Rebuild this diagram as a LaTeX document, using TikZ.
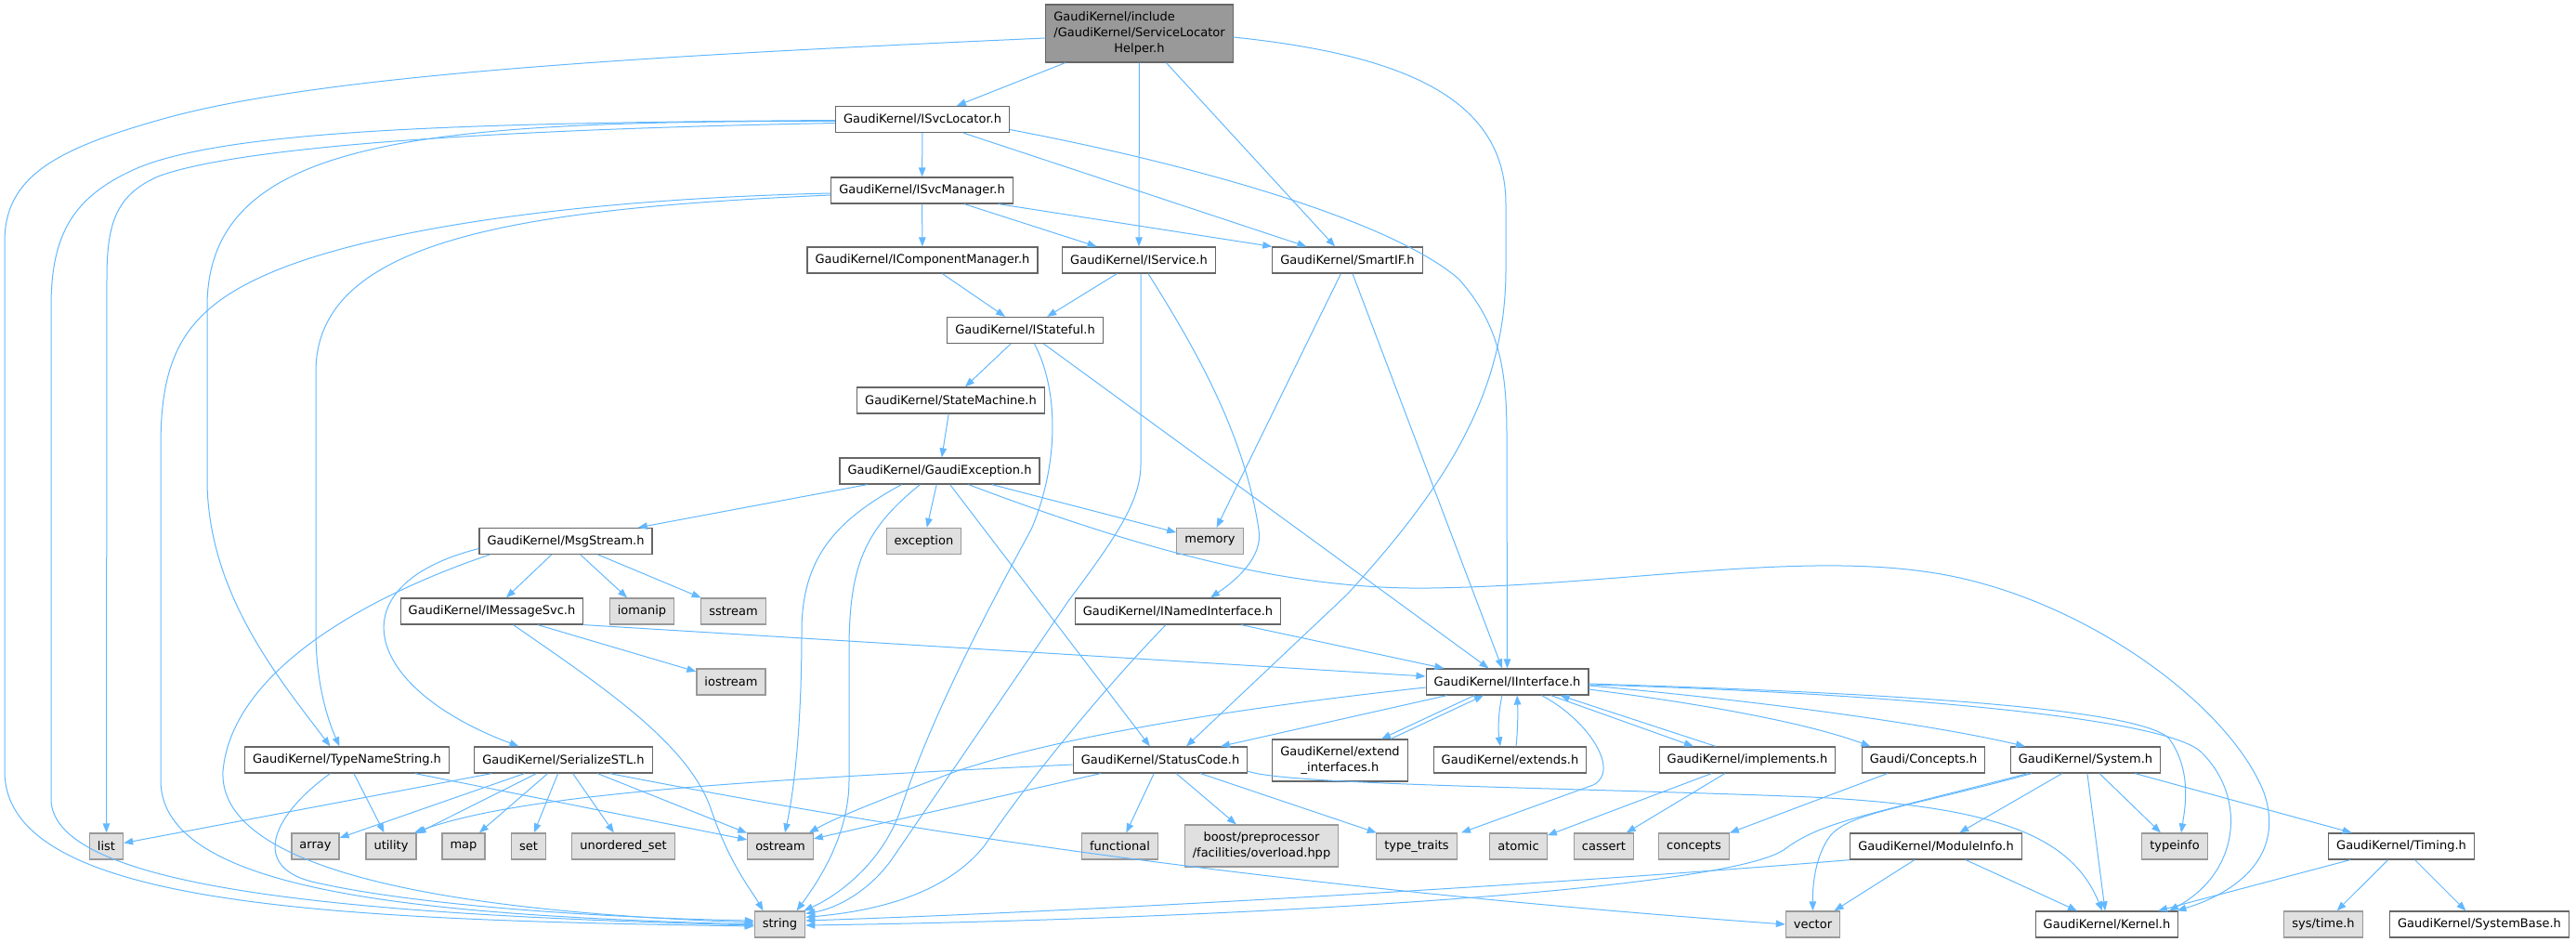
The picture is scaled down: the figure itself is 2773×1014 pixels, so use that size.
\documentclass[tikz,border=0pt]{standalone}
\usepackage{fontspec}
\setmainfont{DejaVu Sans}
\usepackage{tikz}
\usetikzlibrary{arrows.meta}
\definecolor{edgeblue}{HTML}{63B8FF}
\definecolor{boxline}{HTML}{666666}
\definecolor{extline}{HTML}{999999}
\definecolor{extfill}{HTML}{E0E0E0}
\definecolor{rootfill}{HTML}{999999}

\begin{document}
\begin{tikzpicture}[x=1pt,y=-1pt,
hdr/.style={draw=boxline,fill=white,line width=1.2pt,inner xsep=8.5pt,inner ysep=2pt,minimum height=28pt,font=\fontsize{13}{17}\selectfont},
ext/.style={hdr,draw=extline,fill=extfill},
dep/.style={edgeblue,line width=1pt,-{Triangle[length=10pt,width=7.5pt]}}]
\useasboundingbox (0,0) rectangle (2773,1014);

% headers
\node[hdr,fill=rootfill,minimum height=62pt,align=center] (slh) at (1226.5,36)
   {\rlap{GaudiKernel/include}\phantom{/GaudiKernel/ServiceLocator}\\/GaudiKernel/ServiceLocator\\Helper.h};
\node[hdr] (svcloc) at (993,128.5) {GaudiKernel/ISvcLocator.h};
\node[hdr] (svcmgr) at (992.5,205) {GaudiKernel/ISvcManager.h};
\node[hdr] (compmgr) at (993,280) {GaudiKernel/IComponentManager.h};
\node[hdr] (iservice) at (1226,280) {GaudiKernel/IService.h};
\node[hdr] (smartif) at (1450.5,280) {GaudiKernel/SmartIF.h};
\node[hdr] (istateful) at (1103.5,355.5) {GaudiKernel/IStateful.h};
\node[hdr] (statemach) at (1023.5,431) {GaudiKernel/StateMachine.h};
\node[hdr] (gexc) at (1011.5,507) {GaudiKernel/GaudiException.h};
\node[hdr] (msgstream) at (609,582.5) {GaudiKernel/MsgStream.h};
\node[ext] (exception) at (994.5,582.5) {exception};
\node[ext] (memory) at (1302.5,582.5) {memory};
\node[hdr] (imsgsvc) at (529.5,658) {GaudiKernel/IMessageSvc.h};
\node[ext] (iomanip) at (691,658) {iomanip};
\node[ext] (sstream) at (789.5,658) {sstream};
\node[hdr] (inamed) at (1268,658) {GaudiKernel/INamedInterface.h};
\node[ext] (iostream) at (787,734) {iostream};
\node[hdr] (iiface) at (1622.5,734) {GaudiKernel/IInterface.h};
\node[hdr] (typename) at (373.5,818) {GaudiKernel/TypeNameString.h};
\node[hdr] (serial) at (606.5,818) {GaudiKernel/SerializeSTL.h};
\node[hdr] (statuscode) at (1249,818) {GaudiKernel/StatusCode.h};
\node[hdr,minimum height=45pt,align=center] (extendif) at (1442.5,818.5) {GaudiKernel/extend\\\_interfaces.h};
\node[hdr] (extends) at (1625.5,818) {GaudiKernel/extends.h};
\node[hdr] (implements) at (1881,818) {GaudiKernel/implements.h};
\node[hdr] (conceptsh) at (2070.5,818) {Gaudi/Concepts.h};
\node[hdr] (system) at (2245,818) {GaudiKernel/System.h};
\node[ext] (list) at (114.5,911) {list};
\node[ext] (array) at (339.5,911) {array};
\node[ext] (utility) at (421,911) {utility};
\node[ext] (map) at (499,911) {map};
\node[ext] (set) at (569,911) {set};
\node[ext] (unordset) at (671,911) {unordered\_set};
\node[ext] (ostream) at (840,911) {ostream};
\node[ext] (functional) at (1205.5,911) {functional};
\node[ext,minimum height=45pt,align=center] (boost) at (1358,910.5) {boost/preprocessor\\/facilities/overload.hpp};
\node[ext] (typetraits) at (1525,911) {type\_traits};
\node[ext] (atomic) at (1634.5,911) {atomic};
\node[ext] (cassert) at (1726.5,911) {cassert};
\node[ext] (concepts) at (1823.5,911) {concepts};
\node[hdr] (moduleinfo) at (2084,911) {GaudiKernel/ModuleInfo.h};
\node[ext] (typeinfo) at (2341,911) {typeinfo};
\node[hdr] (timing) at (2585,911) {GaudiKernel/Timing.h};
\node[ext] (string) at (839.5,995) {string};
\node[ext] (vector) at (1951.5,995) {vector};
\node[hdr] (kernel) at (2268,995) {GaudiKernel/Kernel.h};
\node[ext] (systime) at (2501,995) {sys/time.h};
\node[hdr] (sysbase) at (2669,995) {GaudiKernel/SystemBase.h};

% straight includes
\foreach \a/\b in {slh/svcloc,slh/iservice,slh/smartif,svcloc/svcmgr,svcloc/smartif,
   svcmgr/compmgr,svcmgr/iservice,compmgr/istateful,iservice/istateful,istateful/statemach,
   statemach/gexc,gexc/msgstream,gexc/exception,gexc/memory,gexc/statuscode,smartif/memory,
   smartif/iiface,istateful/iiface,inamed/iiface,msgstream/imsgsvc,msgstream/iomanip,
   msgstream/sstream,imsgsvc/iostream,iiface/statuscode,statuscode/ostream,
   statuscode/functional,statuscode/boost,statuscode/typetraits,typename/utility,
   typename/ostream,serial/list,serial/array,serial/utility,serial/map,serial/set,
   serial/unordset,serial/ostream,implements/atomic,implements/cassert,conceptsh/concepts,
   system/moduleinfo,system/kernel,system/typeinfo,system/timing,moduleinfo/vector,
   moduleinfo/kernel,timing/kernel,timing/systime,timing/sysbase} {
   \draw[dep] (\a) -- (\b);
}
\draw[dep] ([xshift=-16pt]svcmgr.south east) -- (smartif.north west);
\draw[dep] (imsgsvc.south east) -- ([yshift=6pt]iiface.west);
\draw[dep] ([xshift=-35.5pt]iiface.south) -- ([xshift=44.5pt]extendif.north);
\draw[dep] ([xshift=54.5pt]extendif.north) -- ([xshift=-25.5pt]iiface.south);
\draw[dep] ([xshift=-5.5pt]iiface.south) .. controls (1612,770) and (1613,790) .. ([xshift=-10.5pt]extends.north);
\draw[dep] ([xshift=6.5pt]extends.north) .. controls (1634,785) and (1634,765) .. ([xshift=10.5pt]iiface.south);
\draw[dep] ([xshift=47pt]iiface.south) -- ([xshift=-58pt]implements.north);
\draw[dep] ([xshift=-34pt]implements.north) -- ([xshift=57pt]iiface.south);

% long curved includes
\draw[dep] ([yshift=-5pt]slh.west) .. controls (700,60) and (350,80) .. (179,127)
   .. controls (60,160) and (5,190) .. (5,260) -- (5,830)
   .. controls (5,975) and (350,990) .. ([yshift=-2pt]string.west);
\draw[dep] ([yshift=-1pt]svcloc.west) .. controls (500,132) and (250,140) .. (150,180)
   .. controls (80,210) and (55,250) .. (55,330) -- (55,860)
   .. controls (55,960) and (400,985) .. ([yshift=-1pt]string.west);
\draw[dep] ([yshift=-4pt]svcloc.west) .. controls (500,140) and (250,160) .. (170,190)
   .. controls (125,210) and (115,240) .. (115,300) -- (list.north);
\draw[dep] ([yshift=-2pt]svcloc.west) .. controls (450,130) and (223,150) .. (223,330) -- (223,520)
   .. controls (225,640) and (300,730) .. ([xshift=-18pt]typename.north);
\draw[dep] ([yshift=-11pt]svcloc.east) .. controls (1300,180) and (1500,240) .. (1570,300)
   .. controls (1615,350) and (1622,400) .. (1622,470) -- (iiface.north);
\draw[dep] ([yshift=-3pt]svcmgr.west) .. controls (600,215) and (400,250) .. (300,290)
   .. controls (200,330) and (173,380) .. (173,480) -- (173,840)
   .. controls (173,960) and (450,985) .. (string.west);
\draw[dep] ([yshift=-5pt]svcmgr.west) .. controls (550,225) and (340,260) .. (340,400) -- (340,680)
   .. controls (340,740) and (355,780) .. ([xshift=-8pt]typename.north);
\draw[dep] ([yshift=-4pt]slh.east) .. controls (1520,60) and (1621,110) .. (1621,220) -- (1621,290)
   .. controls (1621,420) and (1560,520) .. (1450,640) -- ([xshift=28pt]statuscode.north);
\draw[dep] ([xshift=2pt]iservice.south) -- (1228,500) .. controls (1228,540) and (1200,580) .. (1150,647)
   -- (960,925) .. controls (935,960) and (900,978) .. ([yshift=-3pt]string.north east);
\draw[dep] ([xshift=10pt]iservice.south) .. controls (1290,380) and (1340,470) .. (1355,570)
   .. controls (1360,600) and (1330,625) .. ([xshift=35pt]inamed.north);
\draw[dep] ([xshift=-13pt]inamed.south) .. controls (1180,750) and (1100,850) .. (1060,910)
   .. controls (1020,960) and (950,980) .. ([yshift=-7pt]string.north east);
\draw[dep] ([xshift=10pt]istateful.south) .. controls (1140,420) and (1140,500) .. (1110,570)
   .. controls (1050,680) and (1000,780) .. (970,870)
   .. controls (950,930) and (900,965) .. ([xshift=-2pt]string.north east);
\draw[dep] ([xshift=-41pt]gexc.south) .. controls (900,560) and (863,600) .. (863,680)
   .. controls (863,780) and (855,850) .. ([xshift=5pt]ostream.north);
\draw[dep] ([xshift=-21pt]gexc.south) .. controls (930,570) and (914,610) .. (914,700) -- (914,840)
   .. controls (914,900) and (880,950) .. ([xshift=18pt]string.north);
\draw[dep] ([xshift=31pt]gexc.south) .. controls (1250,600) and (1400,635) .. (1540,633)
   .. controls (1750,630) and (1950,590) .. (2100,620)
   .. controls (2250,650) and (2400,760) .. (2437,853)
   .. controls (2460,920) and (2410,960) .. ([xshift=-2pt]kernel.north east);
\draw[dep] ([xshift=-82pt]msgstream.south) .. controls (400,640) and (250,720) .. (240,830)
   .. controls (235,930) and (450,980) .. ([yshift=2pt]string.west);
\draw[dep] ([yshift=-8pt]msgstream.west) .. controls (360,630) and (390,740) .. ([xshift=-48pt]serial.north);
\draw[dep] ([xshift=23pt]imsgsvc.south) .. controls (650,740) and (740,800) .. (765,870)
   .. controls (785,930) and (810,960) .. ([xshift=-18pt]string.north);
\draw[dep] ([xshift=-18pt]typename.south) .. controls (290,880) and (270,935) .. (340,950)
   .. controls (450,975) and (650,988) .. ([yshift=4pt]string.west);
\draw[dep] ([xshift=50pt]serial.south) .. controls (900,880) and (1300,950) .. (vector.west);
\draw[dep] ([yshift=-6pt]iiface.west) .. controls (1350,760) and (1150,790) .. (1030,830)
   .. controls (950,860) and (900,880) .. ([xshift=-5pt]ostream.north east);
\draw[dep] ([xshift=37pt]iiface.south) .. controls (1710,775) and (1745,830) .. (1715,845)
   -- ([xshift=48pt]typetraits.north);
\draw[dep] ([yshift=-8pt]iiface.east) .. controls (1850,760) and (1950,780) .. ([xshift=-57pt]conceptsh.north);
\draw[dep] ([yshift=-4pt]iiface.east) .. controls (1900,755) and (2080,780) .. ([xshift=-65pt]system.north);
\draw[dep] ([yshift=-2pt]iiface.east) .. controls (2000,745) and (2300,760) .. (2335,795)
   .. controls (2360,830) and (2352,870) .. ([xshift=7pt]typeinfo.north);
\draw[dep] ([yshift=-3pt]iiface.east) .. controls (2000,745) and (2330,770) .. (2370,810)
   .. controls (2420,860) and (2410,940) .. ([xshift=67pt]kernel.north);
\draw[dep] ([yshift=-5pt]statuscode.west) .. controls (800,840) and (560,855) .. ([xshift=25pt]utility.north);
\draw[dep] ([yshift=-12pt]statuscode.east) .. controls (1380,845) and (1700,848) .. (1950,858)
   .. controls (2150,868) and (2230,900) .. ([xshift=-5pt]kernel.north);
\draw[dep] ([xshift=-58pt]system.south) .. controls (2050,870) and (1990,875) .. (1970,900)
   .. controls (1955,920) and (1951,950) .. (vector.north);
\draw[dep] ([xshift=-62pt]system.south) .. controls (2000,880) and (1960,885) .. (1920,915)
   .. controls (1850,960) and (1300,990) .. ([yshift=-1pt]string.east);
\draw[dep] (moduleinfo.south west) .. controls (1700,950) and (1200,980) .. ([yshift=4pt]string.east);
\end{tikzpicture}
\end{document}
